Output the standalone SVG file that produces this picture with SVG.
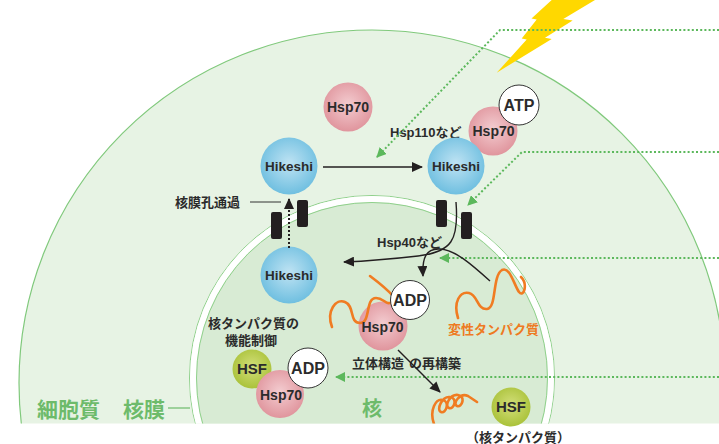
<svg xmlns="http://www.w3.org/2000/svg" width="719" height="444" viewBox="0 0 719 444">
  <defs>
    <style>
      .lbl { font-family: "Liberation Sans", "Noto Sans CJK JP", sans-serif; font-weight: bold; fill: #2b2b2b; }
      .jp { font-family: "Liberation Sans", "Noto Sans CJK JP", sans-serif; font-weight: bold; fill: #2b2b2b; font-size: 13px; }
      .big { font-family: "Noto Sans CJK JP", sans-serif; font-weight: bold; fill: #6dbb6b; }
      .orange { font-family: "Noto Sans CJK JP", sans-serif; font-weight: bold; fill: #ee7a22; font-size: 13px; }
      .mid { text-anchor: middle; }
      .hik { fill: url(#gHik); }
      .hsp { fill: url(#gHsp); }
      .hsf { fill: url(#gHsf); }
      .nuc { fill: #ffffff; stroke: #333333; stroke-width: 1; }
      .pore { fill: #231f20; }
      .dot { fill: none; stroke: #5cb85c; stroke-width: 2; stroke-dasharray: 2 2.2; }
      .blk { fill: none; stroke: #231f20; stroke-width: 1.4; }
      .prot { fill: none; stroke: #f07c22; stroke-width: 2.6; stroke-linecap: round; stroke-linejoin: round; }
    </style>
    <radialGradient id="gHik" cx="50%" cy="45%" r="55%">
      <stop offset="0" stop-color="#bfe3f3"/>
      <stop offset="1" stop-color="#6fbfe0"/>
    </radialGradient>
    <radialGradient id="gHsp" cx="50%" cy="45%" r="55%">
      <stop offset="0" stop-color="#f3ccd0"/>
      <stop offset="1" stop-color="#e0959d"/>
    </radialGradient>
    <radialGradient id="gHsf" cx="50%" cy="45%" r="55%">
      <stop offset="0" stop-color="#d3df7a"/>
      <stop offset="1" stop-color="#aac23a"/>
    </radialGradient>
    <marker id="aBlk" markerUnits="userSpaceOnUse" markerWidth="11" markerHeight="10" refX="10" refY="5" orient="auto" viewBox="0 0 11 10">
      <path d="M0,0 L11,5 L0,10 Z" fill="#231f20"/>
    </marker>
    <marker id="aGrn" markerUnits="userSpaceOnUse" markerWidth="10" markerHeight="10" refX="9" refY="5" orient="auto" viewBox="0 0 10 10">
      <path d="M0,0 L10,5 L0,10 Z" fill="#5cb85c"/>
    </marker>
    <clipPath id="frame">
      <rect x="0" y="0" width="719" height="423.5"/>
    </clipPath>
  </defs>

  <!-- cell body: cytoplasm and nucleus with double membrane -->
  <g id="cell" clip-path="url(#frame)">
    <circle cx="372" cy="383" r="353" fill="#e7f3e4" stroke="#80c97c" stroke-width="1.2"/>
    <circle cx="372" cy="378" r="182.5" fill="none" stroke="#8fd08b" stroke-width="1"/>
    <circle cx="372" cy="378" r="179" fill="none" stroke="#ffffff" stroke-width="6"/>
    <circle cx="372" cy="378" r="175.5" fill="#d8ebd4" stroke="#8fd08b" stroke-width="1"/>
  </g>

  <!-- heat-shock bolt -->
  <polygon id="bolt" fill="#ffd800" points="551.7,0 595,0 563.3,19 572.7,20.5 545,37.7 551.7,39 496.7,72.7 526.7,39.5 521.7,38.5 536.7,19.5 531.5,18.5"/>

  <!-- region labels -->
  <g id="labels">
    <text class="big" x="37" y="417" font-size="21">細胞質</text>
    <text class="big" x="123" y="417" font-size="21">核膜</text>
    <line x1="168" y1="408" x2="190" y2="408" stroke="#6dbb6b" stroke-width="1.2"/>
    <text class="big" x="362" y="416" font-size="20">核</text>
    <text class="jp" x="466" y="442" font-size="12">（核タンパク質）</text>
    <text class="jp" x="390" y="137">Hsp110など</text>
    <text class="jp" x="377" y="247" font-size="12.5">Hsp40など</text>
    <text class="jp" x="175" y="207" font-size="14">核膜孔通過</text>
    <line x1="250" y1="202" x2="281" y2="202" stroke="#333333" stroke-width="1"/>
    <text class="jp" x="208" y="328">核タンパク質の</text>
    <text class="jp" x="225" y="345">機能制御</text>
    <text class="jp" x="352" y="368" font-size="13.5">立体構造<tspan dx="5">の再構築</tspan></text>
    <text class="orange" x="448" y="334">変性タンパク質</text>
  </g>

  <!-- nuclear pores -->
  <g id="pore-left">
    <rect class="pore" x="271" y="212" width="11" height="27" rx="2"/>
    <rect class="pore" x="297" y="200" width="11" height="27" rx="2"/>
  </g>
  <g id="pore-right">
    <rect class="pore" x="436" y="200" width="11" height="27" rx="2"/>
    <rect class="pore" x="461" y="212" width="11" height="27" rx="2"/>
  </g>

  <!-- cytoplasmic nodes -->
  <g id="hsp70-free">
    <circle class="hsp" cx="348" cy="107" r="24.5"/>
    <text class="lbl mid" x="348" y="112" font-size="14">Hsp70</text>
  </g>
  <g id="hikeshi-cyto">
    <circle class="hik" cx="289" cy="166" r="28.5"/>
    <text class="lbl mid" x="289" y="171" font-size="13.5">Hikeshi</text>
  </g>
  <g id="hsp70-atp">
    <circle class="hsp" cx="493" cy="131" r="24.5"/>
    <text class="lbl mid" x="493.5" y="136" font-size="14">Hsp70</text>
    <circle class="nuc" cx="519" cy="105" r="20"/>
    <text class="lbl mid" x="519" y="111" font-size="16">ATP</text>
  </g>
  <g id="hikeshi-pore">
    <circle class="hik" cx="456" cy="166" r="28.5"/>
    <text class="lbl mid" x="456" y="171" font-size="13.5">Hikeshi</text>
  </g>

  <!-- nuclear nodes -->
  <g id="hikeshi-nuc">
    <circle class="hik" cx="289" cy="275" r="28.5"/>
    <text class="lbl mid" x="289" y="280" font-size="13.5">Hikeshi</text>
  </g>
  <g id="denatured">
    <path class="prot" d="M458,318 C453,302 460,291 469,293 C478,295 477,310 487,309 C497,308 492,276 502,270 C510,266 514,285 519,292 C524,298 528,284 521,277"/>
  </g>
  <g id="hsp70-adp-mid">
    <circle class="hsp" cx="383" cy="326" r="24.5"/>
    <path class="prot" d="M332,327 C326,311 336,298 345,302 C355,306 349,323 360,323 C371,323 365,298 376,298 C384,298 386,306 392,302"/>
    <path class="prot" d="M370,276 C378,282 386,288 393,296"/>
    <circle class="nuc" cx="410" cy="300" r="19.5"/>
    <text class="lbl mid" x="410" y="306" font-size="16">ADP</text>
    <text class="lbl mid" x="382.5" y="332" font-size="14">Hsp70</text>
  </g>
  <g id="folded" clip-path="url(#frame)">
    <path class="prot" d="M434,424 C429,410 436,398 443,400 C450,402 446,414 441,412 C436,410 442,396 450,397 C458,398 454,410 449,408 C444,406 450,394 458,395 C466,396 462,408 457,406 C452,404 460,392 468,396 L477,402"/>
  </g>
  <g id="hsf-free">
    <circle class="hsf" cx="511" cy="407" r="19.5"/>
    <text class="lbl mid" x="511" y="412" font-size="15">HSF</text>
  </g>
  <g id="hsf-complex">
    <circle class="hsf" cx="252" cy="369" r="19.5"/>
    <circle class="hsp" cx="280" cy="394" r="24"/>
    <text class="lbl mid" x="252" y="374" font-size="15">HSF</text>
    <text class="lbl mid" x="281" y="400" font-size="14">Hsp70</text>
    <circle class="nuc" cx="308" cy="368" r="20"/>
    <text class="lbl mid" x="308" y="374" font-size="16">ADP</text>
  </g>

  <!-- connectors -->
  <g id="connectors">
    <path class="dot" d="M719,30 L500,30 L377,157" marker-end="url(#aGrn)"/>
    <path class="dot" d="M719,152 L522,152 L468,205" marker-end="url(#aGrn)"/>
    <path class="dot" d="M719,258 L440,258" marker-end="url(#aGrn)"/>
    <path class="dot" d="M719,377 L336,377" marker-end="url(#aGrn)"/>
    <path class="blk" d="M323,167 L422,167" marker-end="url(#aBlk)"/>
    <path fill="none" stroke="#231f20" stroke-width="2" stroke-dasharray="2 2" d="M289,248 L289,199" marker-end="url(#aBlk)"/>
    <path class="blk" d="M456,202 C459,240 452,252 418,256 C392,259 370,261 344,262" marker-end="url(#aBlk)"/>
    <path class="blk" d="M490,281 C470,263 455,250 440,249 C426,248 422,258 423,276" marker-end="url(#aBlk)"/>
    <path class="blk" d="M398,350 L440,392" marker-end="url(#aBlk)"/>
  </g>
</svg>
